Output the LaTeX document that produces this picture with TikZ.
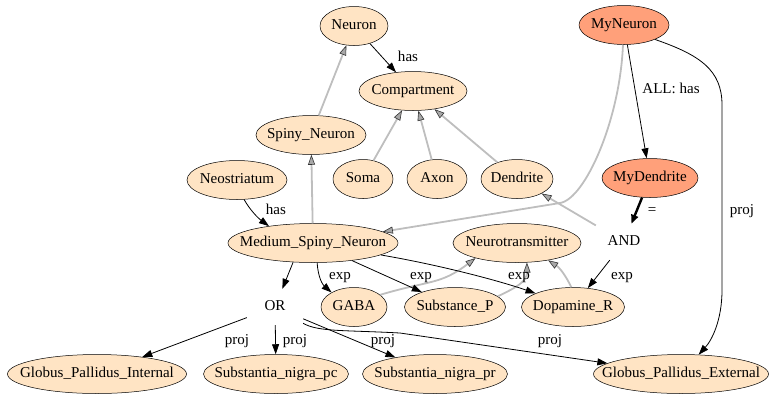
\documentclass[tikz,border=0pt]{standalone}
\usepackage{fontspec}
\setmainfont{Liberation Serif}
\usetikzlibrary{arrows.meta,shapes.geometric}
\definecolor{peach}{HTML}{FFE4C4}
\definecolor{salm}{HTML}{FFA07A}
\definecolor{edgegray}{HTML}{BEBEBE}
\definecolor{headgray}{HTML}{A8A8A8}
\newcommand\zw[1]{\makebox[0pt]{#1}}
\begin{document}
\begin{tikzpicture}[x=1bp,y=-1bp,
  nd/.style={ellipse, draw=black, line width=0.5bp, fill=peach, inner sep=0pt,
    minimum height=39bp, text height=10bp, text depth=3bp,
    font=\fontsize{15.1}{18}\selectfont},
  my/.style={nd, fill=salm},
  pt/.style={inner sep=0pt, minimum width=56bp, minimum height=36bp,
    text height=10bp, text depth=3bp, font=\fontsize{15.1}{18}\selectfont},
  blk/.style={draw=black, line width=0.8bp, -{Triangle[length=10bp,width=7bp]}},
  thk/.style={draw=black, line width=2.4bp, -{Triangle[length=9bp,width=7bp]}},
  gry/.style={draw=edgegray, line width=1.8bp,
    -{Triangle[length=10bp,width=7bp,fill=headgray,color=black!80,line width=0.6bp]}},
  lab/.style={inner sep=0pt, text height=10bp, text depth=3bp,
    font=\fontsize{15.1}{18}\selectfont}
]
\useasboundingbox (0,0) rectangle (769,398);

% nodes
\node[nd, minimum width=68bp]  (neuron) at (354,26)  {\zw{Neuron}};
\node[nd, minimum width=108bp] (comp)   at (413,91)  {\zw{Compartment}};
\node[my, minimum width=90bp]  (myn)    at (624,25)  {\zw{MyNeuron}};
\node[nd, minimum width=110bp] (spiny)  at (311,135) {\zw{Spiny\_Neuron}};
\node[nd, minimum width=60bp]  (soma)   at (363,179) {\zw{Soma}};
\node[nd, minimum width=60bp]  (axon)   at (437,179) {\zw{Axon}};
\node[nd, minimum width=72bp]  (dend)   at (517,179) {\zw{Dendrite}};
\node[nd, minimum width=100bp] (neo)    at (237,180) {\zw{Neostriatum}};
\node[my, minimum width=96bp]  (mydend) at (650,178) {\zw{MyDendrite}};
\node[nd, minimum width=170bp] (msn)    at (313,243) {\zw{Medium\_Spiny\_Neuron}};
\node[nd, minimum width=128bp] (nt)     at (517,243) {\zw{Neurotransmitter}};
\node[pt] (and) at (624,242) {AND};
\node[pt] (or)  at (275,307) {OR};
\node[nd, minimum width=66bp]  (gaba)   at (354,307) {\zw{GABA}};
\node[nd, minimum width=101bp] (sp)     at (455,307) {\zw{Substance\_P}};
\node[nd, minimum width=103bp] (dopa)   at (573,307) {\zw{Dopamine\_R}};
\node[nd, minimum width=179bp] (gpi)    at (97,374)  {\zw{Globus\_Pallidus\_Internal}};
\node[nd, minimum width=145bp] (snpc)   at (276,374) {\zw{Substantia\_nigra\_pc}};
\node[nd, minimum width=145bp] (snpr)   at (435,374) {\zw{Substantia\_nigra\_pr}};
\node[nd, minimum width=175bp] (gpe)    at (681,374) {\zw{Globus\_Pallidus\_External}};

% gray (is-a) edges
\draw[gry] (spiny) -- (neuron);
\draw[gry] (soma) -- (comp);
\draw[gry] (axon) -- (comp);
\draw[gry] (dend) -- (comp);
\draw[gry] (msn) -- (spiny);
\draw[gry] (myn.-93) .. controls (620,120) and (585,199) .. (560,203) -- (msn);
\draw[gry] (and) -- (dend);
\draw[gry] (gaba.25) .. controls (430,280) and (440,285) .. (nt.-160);
\draw[gry] (sp.14) .. controls (515,288) and (527,282) .. (nt.-63);
\draw[gry] (dopa.95) .. controls (566,276) and (560,268) .. (nt.-29);

% black edges
\draw[blk] (neuron) -- (comp);
\draw[blk] (neo.-70) .. controls (250,210) and (258,218) .. (msn.159);
\draw[blk] (myn) -- (mydend);
\draw[blk] (myn.-25) .. controls (700,55) and (722,70) .. (722,105) -- (722,290)
  .. controls (722,320) and (712,340) .. (gpe);
\draw[thk] (mydend) -- (and);
\draw[blk] (and) -- (dopa);
\draw[blk] (msn.-136) -- (or);
\draw[blk] (msn.-78) .. controls (318,278) and (323,285) .. (gaba.147);
\draw[blk] (msn) -- (sp);
\draw[blk] (msn.-10) .. controls (440,265) and (500,281) .. (dopa.160);
\draw[blk] (or) -- (gpi);
\draw[blk] (or) -- (snpc);
\draw[blk] (or) -- (snpr);
\draw[blk] (or.-30) .. controls (318,332) and (345,330) .. (400,333) -- (gpe);

% labels
\node[lab] (l1)  at (408,58)  {has};
\node[lab] (l2)  at (276,211) {has};
\node[lab] (l3)  at (671,90)  {ALL: has};
\node[lab] (l4)  at (652,211) {=};
\node[lab] (l5)  at (742,211) {proj};
\node[lab] (l6)  at (340,276) {exp};
\node[lab] (l7)  at (421,276) {exp};
\node[lab] (l8)  at (519,276) {exp};
\node[lab] (l9)  at (622,276) {exp};
\node[lab] (l10) at (237,341) {proj};
\node[lab] (l11) at (295,341) {proj};
\node[lab] (l12) at (383,341) {proj};
\node[lab] (l13) at (550,341) {proj};
\end{tikzpicture}
\end{document}
